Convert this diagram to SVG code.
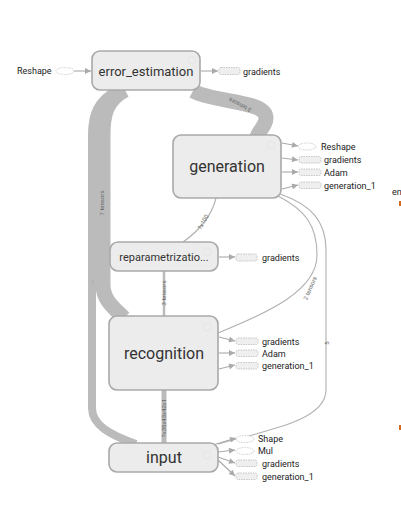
<svg xmlns="http://www.w3.org/2000/svg" width="401" height="514" viewBox="0 0 401 514">
<style>
.node rect.box{fill:#ececec;stroke:#a9a9a9;stroke-width:1.6}
.title{font-family:Roboto,"Liberation Sans",sans-serif;fill:#333;text-anchor:middle}
.lbl{font-family:Roboto,"Liberation Sans",sans-serif;font-size:9px;fill:#222}
.elab{font-family:Roboto,"Liberation Sans",sans-serif;font-size:6px;fill:#666;text-anchor:middle}
.band{fill:none;stroke:#bbb}
.thin{fill:none;stroke:#b0b0b0;stroke-width:1.1}
.out{stroke:#aaa;stroke-width:1.1;marker-end:url(#ah)}
.ell{fill:#fff;stroke:#c8c8c8;stroke-dasharray:1.5,1;stroke-width:0.9}
.drect{fill:#efefef;stroke:#c0c0c0;stroke-dasharray:1.5,1;stroke-width:0.9}
.icon{fill:none;stroke:#e6e6e6;stroke-width:1}
</style>
<defs>
<marker id="ah" viewBox="0 0 10 10" refX="10" refY="5" markerUnits="userSpaceOnUse" markerWidth="7" markerHeight="6" orient="auto">
<path d="M0,0 L10,5 L0,10 z" fill="#aaa"/>
</marker>
</defs>
<rect width="401" height="514" fill="#fff"/>
<g id="connectors">
<path class="band" stroke-width="8" d="M117,90 C97,100 92,115 92,135 L92,408 C92,425 110,435 136,444"/>
<path class="band" stroke-width="15" d="M125,90 C106,100 103,115 103,135 L103,285 C103,300 114,308 124,318"/>
<path class="band" stroke-width="15" d="M193,91 C215,103 266,100 266,118 C266,126 259,130 257,137"/>
<path class="thin" d="M278,196 C305,210 317,225 317,255 C317,290 270,312 218,333"/>
<path class="thin" d="M280,194 C312,205 326,222 326,250 L326,390 C326,420 270,430 218,444"/>
<path class="thin" stroke-width="1.5" d="M216,198 C212,215 200,230 183,242"/>
<path fill="none" stroke="#bbb" stroke-width="2.5" d="M164,271 L164,316"/>
<path fill="none" stroke="#bbb" stroke-width="5" d="M164,390 L164,443"/>
<text class="elab" transform="translate(241,103) rotate(207)">3 tensors</text>
<text class="elab" transform="translate(104,203) rotate(-90)">7 tensors</text>
<text class="elab" transform="translate(93,282) rotate(-90)">...</text>
<text class="elab" transform="translate(205,223) rotate(-60)">?x100</text>
<text class="elab" transform="translate(166,293) rotate(-90)">3 tensors</text>
<text class="elab" transform="translate(166,418) rotate(-90)">?x35x43x42x1</text>
<text class="elab" transform="translate(312,289) rotate(-66)">2 tensors</text>
<text class="elab" transform="translate(329,343) rotate(-90)">5</text>
<line class="out" x1="74" y1="71" x2="91" y2="71"/>
<line class="out" x1="201" y1="71" x2="218" y2="71"/>
<line class="out" x1="282" y1="143" x2="298" y2="146"/>
<line class="out" x1="282" y1="158" x2="298" y2="160"/>
<line class="out" x1="282" y1="172" x2="298" y2="172"/>
<line class="out" x1="282" y1="189" x2="298" y2="185"/>
<line class="out" x1="219" y1="257" x2="235" y2="257"/>
<line class="out" x1="219" y1="337" x2="235" y2="341"/>
<line class="out" x1="219" y1="353" x2="235" y2="353"/>
<line class="out" x1="219" y1="369" x2="235" y2="365"/>
<line class="out" x1="213" y1="445" x2="236" y2="438"/>
<line class="out" x1="218" y1="452" x2="235" y2="450"/>
<line class="out" x1="218" y1="457" x2="235" y2="463"/>
<line class="out" x1="218" y1="460" x2="235" y2="476"/>
</g>
<g id="side-items">
<ellipse class="ell" cx="65" cy="71" rx="9" ry="3.5"/>
<text class="lbl" x="17" y="74">Reshape</text>
<rect class="drect" x="219" y="67.5" width="21" height="7" rx="2"/>
<text class="lbl" x="243" y="75">gradients</text>
<ellipse class="ell" cx="307" cy="146.5" rx="9" ry="3.5"/>
<text class="lbl" x="321" y="150">Reshape</text>
<rect class="drect" x="299" y="156.5" width="22" height="6.5" rx="2"/>
<text class="lbl" x="324" y="163">gradients</text>
<rect class="drect" x="299" y="169" width="22" height="6.5" rx="2"/>
<text class="lbl" x="324" y="176">Adam</text>
<rect class="drect" x="299" y="182" width="22" height="6.5" rx="2"/>
<text class="lbl" x="324" y="188.5">generation_1</text>
<rect class="drect" x="236" y="254" width="21" height="7" rx="2"/>
<text class="lbl" x="262" y="261">gradients</text>
<rect class="drect" x="236" y="338" width="22" height="6.5" rx="2"/>
<text class="lbl" x="262" y="344.5">gradients</text>
<rect class="drect" x="236" y="350" width="22" height="6.5" rx="2"/>
<text class="lbl" x="262" y="357">Adam</text>
<rect class="drect" x="236" y="362.5" width="22" height="6.5" rx="2"/>
<text class="lbl" x="262" y="369">generation_1</text>
<ellipse class="ell" cx="245" cy="439" rx="9" ry="3.5"/>
<text class="lbl" x="258" y="442">Shape</text>
<ellipse class="ell" cx="245" cy="451" rx="9" ry="3.5"/>
<text class="lbl" x="258" y="454">Mul</text>
<rect class="drect" x="236" y="460" width="21" height="6.5" rx="2"/>
<text class="lbl" x="262" y="467">gradients</text>
<rect class="drect" x="236" y="473" width="21" height="6.5" rx="2"/>
<text class="lbl" x="262" y="480">generation_1</text>
<text class="lbl" x="392" y="195">en</text>
<rect x="399" y="201" width="2" height="5" fill="#d2691e"/>
<rect x="399" y="425" width="2" height="5" fill="#d2691e"/>
</g>
<g id="error_estimation" class="node">
<rect class="box" x="92" y="51" width="108" height="39" rx="8"/>
<circle class="icon" cx="192" cy="60" r="4"/>
<text class="title" x="146" y="76" font-size="13">error_estimation</text>
</g>
<g id="generation" class="node">
<rect class="box" x="173" y="135" width="108" height="63" rx="8"/>
<circle class="icon" cx="271" cy="145" r="4"/>
<text class="title" x="227" y="172" font-size="16">generation</text>
</g>
<g id="reparametrization" class="node">
<rect class="box" x="110" y="242" width="108" height="29" rx="8"/>
<circle class="icon" cx="207" cy="252" r="4"/>
<text class="title" x="164" y="261" font-size="11">reparametrizatio...</text>
</g>
<g id="recognition" class="node">
<rect class="box" x="109" y="316" width="109" height="74" rx="8"/>
<circle class="icon" cx="207" cy="327" r="4"/>
<text class="title" x="164" y="359" font-size="16">recognition</text>
</g>
<g id="input" class="node">
<rect class="box" x="109" y="443" width="109" height="29" rx="8"/>
<circle class="icon" cx="207" cy="455" r="4"/>
<text class="title" x="164" y="463" font-size="16">input</text>
</g>
</svg>
